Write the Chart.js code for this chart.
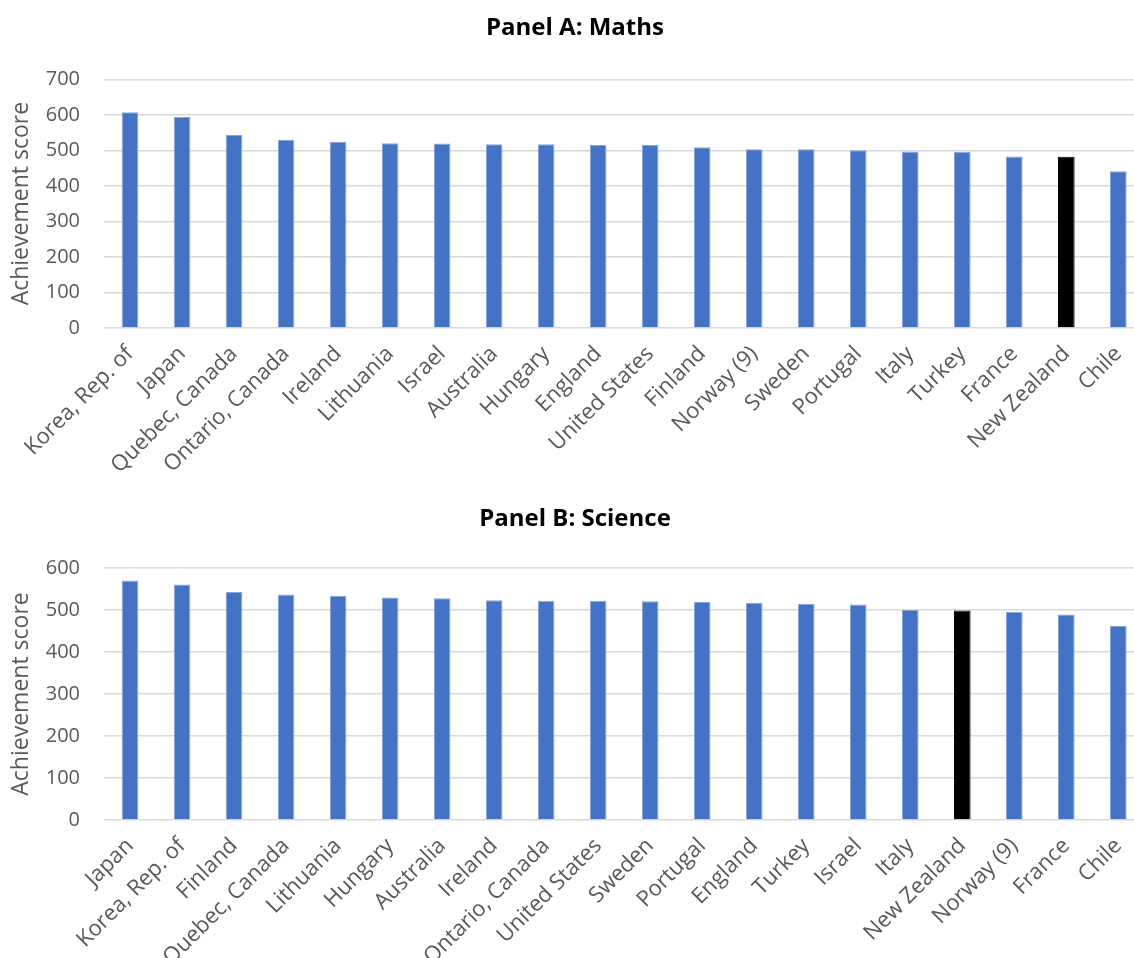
<!DOCTYPE html>
<html>
<head>
<meta charset="utf-8">
<script src="https://cdn.jsdelivr.net/npm/chart.js@4.4.1/dist/chart.umd.min.js"></script>
<style>
  html, body { margin: 0; padding: 0; background: #fff; overflow: hidden; }
  .panel { position: absolute; left: 0; width: 1150px; }
  #wrapA { top: 0; height: 480px; }
  #wrapB { top: 491px; height: 467px; }
</style>
</head>
<body>
<div class="panel" id="wrapA"><canvas id="chartA"></canvas></div>
<div class="panel" id="wrapB"><canvas id="chartB"></canvas></div>
<script>
// TIMSS 2019, Grade 8 average achievement
const mathsCountries = ["Korea, Rep. of", "Japan", "Quebec, Canada", "Ontario, Canada", "Ireland",
  "Lithuania", "Israel", "Australia", "Hungary", "England", "United States", "Finland",
  "Norway (9)", "Sweden", "Portugal", "Italy", "Turkey", "France", "New Zealand", "Chile"];
const mathsScores = [607, 594, 543, 530, 524, 520, 519, 517, 517, 515, 515, 509,
  503, 503, 500, 497, 496, 483, 482, 441];

const scienceCountries = ["Japan", "Korea, Rep. of", "Finland", "Quebec, Canada", "Lithuania",
  "Hungary", "Australia", "Ireland", "Ontario, Canada", "United States", "Sweden", "Portugal",
  "England", "Turkey", "Israel", "Italy", "New Zealand", "Norway (9)", "France", "Chile"];
const scienceScores = [570, 561, 543, 537, 534, 530, 528, 523, 522, 522, 521, 519,
  517, 515, 513, 500, 499, 495, 489, 462];

const mathsTicks = [0, 100, 200, 300, 400, 500, 600, 700];
const scienceTicks = [0, 100, 200, 300, 400, 500, 600];

const highlight = "New Zealand";
const BLUE = "#4472C4", BLUE_EDGE = "#86a3da", BLACK = "#000000";
const FONT = "'Open Sans', 'DejaVu Sans', sans-serif";
const GRID = "#d9d9d9";
const TEXT = "#595959";

function makePanel(canvasId, title, labels, values, ticks, opts) {
  const colors = labels.map(l => l === highlight ? BLACK : BLUE);
  const edges = labels.map(l => l === highlight ? BLACK : BLUE_EDGE);
  return new Chart(document.getElementById(canvasId), {
    type: "bar",
    data: {
      labels: labels,
      datasets: [{
        data: values,
        backgroundColor: colors,
        borderColor: edges,
        borderWidth: 1,
        barPercentage: 0.32,
        categoryPercentage: 1.0
      }]
    },
    options: {
      responsive: true,
      maintainAspectRatio: false,
      animation: false,
      layout: { padding: { left: 0, right: 0, top: 0, bottom: 0 } },
      plugins: {
        legend: { display: false },
        tooltip: { enabled: false },
        title: {
          display: true,
          text: title,
          color: "#000",
          font: { family: FONT, size: 24, weight: "bold" },
          padding: { top: 14, bottom: opts.titleBottom }
        }
      },
      scales: {
        x: {
          grid: { display: false, drawTicks: false },
          border: { display: false },
          ticks: {
            color: TEXT,
            font: { family: FONT, size: 22 },
            maxRotation: 45,
            minRotation: 45,
            autoSkip: false,
            padding: 13
          },
          afterFit: s => { s.height = opts.xHeight; }
        },
        y: {
          min: 0,
          max: ticks[ticks.length - 1],
          afterBuildTicks: s => { s.ticks = ticks.map(v => ({ value: v })); },
          grid: { color: GRID, lineWidth: 1.5, drawTicks: false },
          border: { display: false },
          ticks: {
            color: TEXT,
            font: { family: FONT, size: 20 },
            padding: 24
          },
          title: {
            display: true,
            text: "Achievement score",
            color: TEXT,
            font: { family: FONT, size: 23 },
            padding: { top: 8, bottom: 0 }
          },
          afterFit: s => { s.width = 104; }
        }
      }
    }
  });
}

makePanel("chartA", "Panel A: Maths", mathsCountries, mathsScores, mathsTicks,
  { titleBottom: 36.5, xHeight: 152 });
makePanel("chartB", "Panel B: Science", scienceCountries, scienceScores, scienceTicks,
  { titleBottom: 34.2, xHeight: 138 });
</script>
</body>
</html>
